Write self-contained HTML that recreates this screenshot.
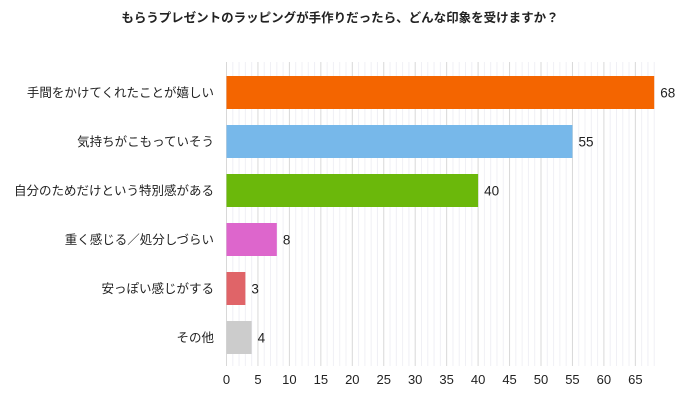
<!DOCTYPE html>
<html><head><meta charset="utf-8"><style>
html,body{margin:0;padding:0;background:#fff;}
svg{display:block;font-family:"Liberation Sans","Noto Sans CJK JP",sans-serif;}
</style></head><body>
<svg id="chart" width="681" height="400">
<text x="340" y="22" text-anchor="middle" font-size="12.5" font-weight="bold" fill="#222">もらうプレゼントのラッピングが手作りだったら、どんな印象を受けますか？</text>
<g id="grid"></g>
<g id="bars"></g>
<g id="xaxis"></g>
</svg>
<script>
const categories = ["手間をかけてくれたことが嬉しい","気持ちがこもっていそう","自分のためだけという特別感がある","重く感じる／処分しづらい","安っぽい感じがする","その他"];
const values = [68,55,40,8,3,4];
const colors = ["#f46500","#77b8ea","#6bb80b","#dd66cc","#e06468","#cccccc"];
const ticks = [0,5,10,15,20,25,30,35,40,45,50,55,60,65];
const xMax = 68;
{
const NS="http://www.w3.org/2000/svg";
const x0=226.5, pxPer=6.29, plotTop=62, plotBottom=366, step=49, bandTop=76, barH=33;
const xs = v => x0 + v*pxPer;
function mk(tag, attrs, parent){const e=document.createElementNS(NS,tag);for(const k in attrs)e.setAttribute(k,attrs[k]);parent.appendChild(e);return e;}
const grid=document.getElementById('grid'), bars=document.getElementById('bars'), xaxis=document.getElementById('xaxis');
for(let v=0; v<=xMax; v++){
  const l=mk('line',{x1:xs(v),x2:xs(v),y1:plotTop,y2:plotBottom,stroke:(v%5===0)?'#d8d8d8':'#f0f0f5','stroke-width':1},grid);
  
  
}
ticks.forEach(t=>{
  const e=mk('text',{x:xs(t),y:384,'text-anchor':'middle','font-size':13,fill:'#222'},xaxis);
  e.textContent=t;
  
  
});
categories.forEach((c,i)=>{
  const y=bandTop+i*step;
  const r=mk('rect',{x:x0,y:y,width:xs(values[i])-x0,height:barH,fill:colors[i]},bars);
  
  
  const lab=mk('text',{x:214,y:y+barH/2+4.5,'text-anchor':'end','font-size':12.5,fill:'#222'},bars);
  lab.textContent=c;
  
  
  const val=mk('text',{x:xs(values[i])+6,y:y+barH/2+5,'font-size':13.5,fill:'#222'},bars);
  val.textContent=values[i];
  
  
});
}
</script>
</body></html>
